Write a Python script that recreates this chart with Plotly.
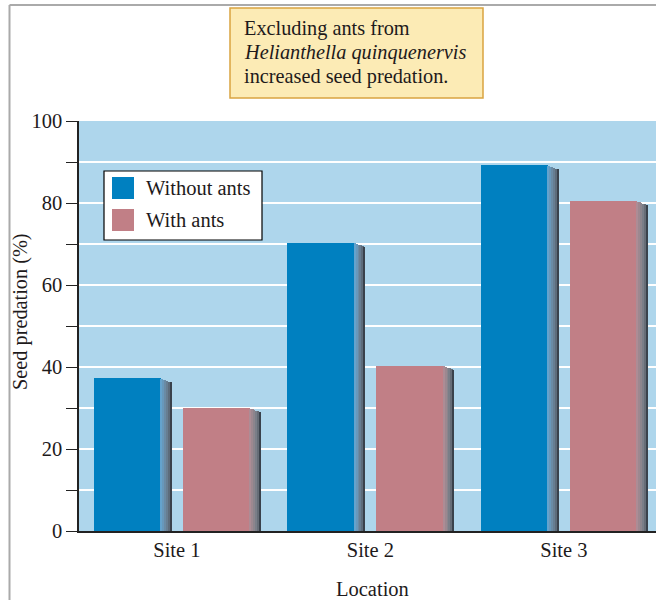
import plotly.graph_objects as go

# Seed predation (%) per site, with and without ants present
sites = ["Site 1", "Site 2", "Site 3"]
without_ants = [37.2, 70.3, 89.2]
with_ants = [30.0, 40.3, 80.5]
series_names = ["Without ants", "With ants"]
y_ticks = list(range(0, 101, 10))
y_tick_text = [str(v) if v % 20 == 0 else "" for v in y_ticks]
callout_lines = ["Excluding ants from",
                 "<i>Helianthella quinquenervis</i>",
                 "increased seed predation."]

FONT = "Liberation Serif"
INK = "#1E1A1B"
BLUE = "#0080C0"
PINK = "#C17F86"
BG = "#AED6EC"

# side-face shading used to give each bar a bevelled, 3-D look
blue_side = ["#64a3cd", "#6898bb", "#6a8ba5", "#677e92", "#5d6c7b", "#3a424c"]
pink_side = ["#ad8c95", "#9d8890", "#8c858d", "#7a7e88", "#666d77", "#3a424c"]

x = list(range(len(sites)))
face_w = 0.346
side_w = 0.057
offsets = {"Without ants": -0.429, "With ants": 0.031}

fig = go.Figure()


def add_bar(name, values, color, side_colors):
    off = offsets[name]
    fig.add_trace(go.Bar(
        x=x, y=values, name=name, offset=off, width=face_w,
        marker=dict(color=color, line=dict(width=0)), showlegend=False,
    ))
    n = len(side_colors)
    strip = side_w / n
    for k, c in enumerate(side_colors):
        fig.add_trace(go.Bar(
            x=x, y=[v - 0.16 * (k + 1) for v in values],
            offset=off + face_w + k * strip, width=strip * 1.05,
            marker=dict(color=c, line=dict(width=0)),
            showlegend=False, hoverinfo="skip",
        ))


add_bar("Without ants", without_ants, BLUE, blue_side)
add_bar("With ants", with_ants, PINK, pink_side)

# paper-coordinate helpers (plot area spans 577 x 410 px)
L, T, W, H = 79, 121, 577, 410


def px(xp):
    return (xp - L) / W


def py(yp):
    return (T + H - yp) / H


shapes = []
annotations = []

# outer panel frame
shapes.append(dict(type="line", xref="paper", yref="paper",
                   x0=px(9.5), x1=1.0, y0=py(5), y1=py(5),
                   line=dict(color="#AAAAAA", width=2)))
shapes.append(dict(type="line", xref="paper", yref="paper",
                   x0=px(9.5), x1=px(9.5), y0=py(5), y1=py(600),
                   line=dict(color="#AAAAAA", width=2)))

# callout box
shapes.append(dict(type="rect", xref="paper", yref="paper",
                   x0=px(230), x1=px(483), y0=py(98), y1=py(8),
                   fillcolor="#FCEBB5", line=dict(color="#D9A440", width=1.5)))
for line, cy in zip(callout_lines, [28, 52.5, 77]):
    annotations.append(dict(
        xref="paper", yref="paper", x=px(242), y=py(cy),
        xanchor="left", yanchor="middle", align="left", showarrow=False,
        text=line, font=dict(family=FONT, size=20.3, color=INK),
    ))

# legend box
shapes.append(dict(type="rect", xref="paper", yref="paper",
                   x0=px(104), x1=px(262), y0=py(240), y1=py(171),
                   fillcolor="white", line=dict(color="black", width=1.2)))
for name, color, cy in zip(series_names, [BLUE, PINK], [188, 220]):
    shapes.append(dict(type="rect", xref="paper", yref="paper",
                       x0=px(112), x1=px(134), y0=py(cy + 11), y1=py(cy - 11),
                       fillcolor=color, line=dict(width=0)))
    annotations.append(dict(
        xref="paper", yref="paper", x=px(144), y=py(cy),
        xanchor="left", yanchor="middle", showarrow=False, text=name,
        font=dict(family=FONT, size=20.5, color=INK),
    ))

# axis titles
annotations.append(dict(
    xref="paper", yref="paper", x=px(20), y=py(312), textangle=-90,
    xanchor="center", yanchor="middle", showarrow=False,
    text="Seed predation (%)", font=dict(family=FONT, size=20.3, color=INK),
))
annotations.append(dict(
    xref="paper", yref="paper", x=px(372), y=py(589),
    xanchor="center", yanchor="middle", showarrow=False,
    text="Location", font=dict(family=FONT, size=20.5, color=INK),
))

fig.update_layout(
    width=656, height=600,
    margin=dict(l=L, r=0, t=T, b=600 - T - H, pad=0),
    paper_bgcolor="white", plot_bgcolor=BG,
    barmode="overlay", bargap=0,
    shapes=shapes, annotations=annotations,
    font=dict(family=FONT, color=INK),
    xaxis=dict(
        range=[-0.506, 2.476], tickmode="array", tickvals=x, ticktext=sites,
        showline=True, linecolor="#222222", linewidth=1.5, ticks="",
        showgrid=False, zeroline=False, ticklabelstandoff=0,
        tickfont=dict(family=FONT, size=20.5, color=INK), fixedrange=True,
    ),
    yaxis=dict(
        range=[0, 100], tickmode="array", tickvals=y_ticks, ticktext=y_tick_text,
        showline=True, linecolor="#222222", linewidth=1.5,
        ticks="outside", ticklen=11, tickwidth=1, tickcolor="#222222",
        showgrid=True, gridcolor="white", gridwidth=2, zeroline=False,
        tickfont=dict(family=FONT, size=20.5, color=INK), fixedrange=True,
    ),
)

fig.write_html("out.html")
